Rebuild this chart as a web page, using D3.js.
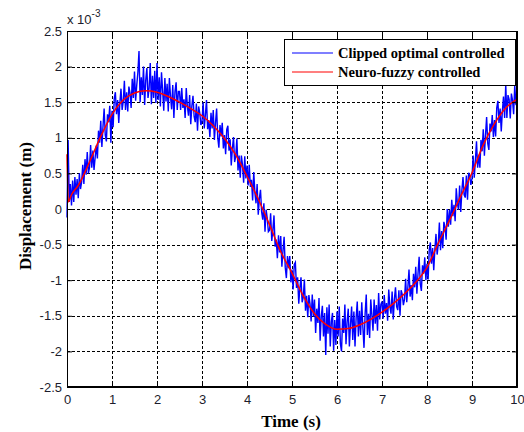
<!DOCTYPE html>
<html>
<head>
<meta charset="utf-8">
<script src="https://cdn.jsdelivr.net/npm/d3@7"></script>
<style>
  body { margin: 0; background: #fff; }
  .tick text { font-family: "Liberation Sans", Arial, sans-serif; font-size: 13px; fill: #1c1c2c; }
</style>
</head>
<body>
<svg width="524" height="432"></svg>
<script>
// data (displacement in units of 1e-3 m)
var xTicks = [0, 1, 2, 3, 4, 5, 6, 7, 8, 9, 10];
var yTicks = [-2.5, -2, -1.5, -1, -0.5, 0, 0.5, 1, 1.5, 2, 2.5];

// neuro-fuzzy controlled (smooth)
var fuzzyTime = [0, 0.03, 0.1, 0.25, 0.5, 0.75, 1, 1.25, 1.5, 1.75, 2, 2.25, 2.5, 2.75, 3, 3.25, 3.5, 3.75,
  4, 4.25, 4.5, 4.75, 5, 5.25, 5.5, 5.75, 6, 6.25, 6.5, 6.75, 7, 7.25, 7.5, 7.75, 8, 8.25, 8.5, 8.75,
  9, 9.25, 9.5, 9.75, 10];
var fuzzyDisp = [0.77, 0.10, 0.20, 0.33, 0.66, 1.02, 1.33, 1.53, 1.63, 1.66, 1.64, 1.58, 1.50, 1.41, 1.31, 1.17, 0.99, 0.76,
  0.46, 0.14, -0.22, -0.60, -0.90, -1.22, -1.47, -1.62, -1.69, -1.68, -1.63, -1.55, -1.45, -1.33, -1.19, -1.03, -0.82, -0.48, -0.16, 0.18,
  0.51, 0.90, 1.20, 1.42, 1.54];

// clipped optimal controlled (noisy), sampled every 0.025 s, one row = 0.5 s
var clippedStep = 0.025;
var clippedDisp = [
  -0.12, 0.97, 0.10, 0.35, 0.05, 0.40, 0.10, 0.45, 0.20, 0.42, 0.15, 0.50, 0.28, 0.38, 0.62, 0.35, 0.70, 0.48, 0.80, 0.50,
  0.58, 0.90, 0.58, 0.82, 0.55, 0.72, 0.89, 0.71, 1.10, 0.93, 1.24, 0.87, 1.16, 1.41, 1.04, 0.95, 1.33, 1.22, 1.45, 0.93,
  1.38, 1.15, 1.55, 1.64, 1.33, 1.53, 1.21, 1.49, 1.69, 1.39, 1.51, 1.80, 1.39, 1.64, 1.37, 1.72, 1.63, 1.42, 1.83, 1.56,
  1.93, 1.52, 1.74, 1.92, 2.22, 1.50, 1.85, 1.60, 2.00, 1.46, 1.81, 1.98, 1.56, 1.70, 2.05, 1.47, 1.87, 1.56, 1.94, 1.49,
  2.05, 1.53, 1.85, 1.44, 1.92, 1.66, 1.38, 1.84, 1.51, 1.76, 1.37, 1.84, 1.58, 1.40, 1.74, 1.28, 1.65, 1.78, 1.39, 1.65,
  1.65, 1.39, 1.70, 1.42, 1.54, 1.28, 1.70, 1.44, 1.31, 1.60, 1.19, 1.45, 1.59, 1.30, 1.22, 1.48, 1.10, 1.44, 1.35, 1.18,
  1.23, 1.50, 1.13, 1.32, 1.53, 1.12, 1.25, 1.01, 1.35, 1.13, 1.39, 0.97, 1.21, 1.41, 1.00, 0.86, 1.18, 1.02, 1.21, 0.85,
  1.04, 0.77, 1.12, 1.17, 0.82, 0.98, 0.61, 0.85, 1.01, 0.66, 0.74, 0.99, 0.54, 0.75, 0.44, 0.75, 0.62, 0.37, 0.74, 0.43,
  0.61, 0.33, 0.62, 0.31, 0.41, 0.12, 0.52, 0.23, 0.08, 0.35, -0.08, 0.15, 0.27, -0.04, -0.15, 0.08, -0.32, -0.01, -0.13, -0.32,
  -0.30, -0.06, -0.45, -0.29, -0.09, -0.53, -0.43, -0.69, -0.37, -0.61, -0.38, -0.81, -0.58, -0.39, -0.82, -0.97, -0.66, -0.83, -0.66, -1.03,
  -0.85, -1.13, -0.78, -0.75, -1.11, -0.96, -1.33, -1.11, -0.96, -1.31, -1.24, -0.99, -1.43, -1.22, -1.52, -1.21, -1.33, -1.58, -1.20, -1.51,
  -1.27, -1.74, -1.40, -1.60, -1.25, -1.85, -1.51, -1.36, -1.79, -1.46, -2.05, -1.38, -1.75, -1.34, -1.93, -1.58, -1.46, -1.99, -1.56, -1.91,
  -1.44, -1.79, -1.37, -1.89, -2.00, -1.54, -1.74, -1.34, -1.90, -1.58, -1.40, -1.93, -1.62, -1.37, -1.84, -1.44, -1.93, -1.53, -1.30, -1.79,
  -1.43, -1.77, -1.31, -1.66, -1.95, -1.47, -1.20, -1.77, -1.47, -1.81, -1.27, -1.49, -1.71, -1.27, -1.61, -1.35, -1.71, -1.18, -1.55, -1.34,
  -1.30, -1.54, -1.21, -1.47, -1.32, -1.57, -1.13, -1.37, -1.47, -1.16, -1.55, -1.27, -1.10, -1.37, -1.42, -1.14, -1.50, -1.14, -1.20, -1.35,
  -1.27, -0.98, -1.31, -1.10, -0.85, -1.23, -1.07, -1.28, -0.91, -1.10, -0.81, -1.19, -0.91, -0.67, -1.05, -1.15, -0.79, -0.91, -0.68, -1.00,
  -0.77, -0.99, -0.57, -0.47, -0.77, -0.55, -0.86, -0.56, -0.35, -0.64, -0.50, -0.19, -0.58, -0.31, -0.55, -0.18, -0.25, -0.43, 0.00, -0.25,
  -0.01, -0.22, 0.13, -0.10, 0.06, -0.17, 0.29, 0.08, -0.01, 0.33, -0.04, 0.26, 0.45, 0.20, 0.16, 0.47, 0.13, 0.51, 0.46, 0.34,
  0.43, 0.75, 0.44, 0.68, 0.95, 0.58, 0.76, 0.58, 0.97, 0.81, 1.12, 0.75, 1.04, 1.29, 0.92, 0.83, 1.20, 1.09, 1.32, 1.01,
  1.25, 1.02, 1.42, 1.52, 1.21, 1.41, 1.09, 1.38, 1.58, 1.28, 1.75, 1.28, 1.60, 1.54, 1.27, 1.62, 1.53, 1.33, 1.74, 1.47,
  1.45
];

var legendLabels = ["Clipped optimal controlled", "Neuro-fuzzy controlled"];
var seriesColors = ["#0000ff", "#ff0000"];

var svg = d3.select("svg"),
    width = +svg.attr("width"),
    height = +svg.attr("height");

// plot box ("top" is taken by window.top, so prefixed names)
var plotLeft = 67, plotRight = 517, plotTop = 31, plotBottom = 387;

var x = d3.scaleLinear().domain([0, 10]).range([plotLeft, plotRight]);
var y = d3.scaleLinear().domain([-2.5, 2.5]).range([plotBottom, plotTop]);

svg.append("rect")
    .attr("width", width)
    .attr("height", height)
    .attr("fill", "#fff");

// grid
var grid = svg.append("g").attr("class", "grid")
    .attr("stroke", "#000")
    .attr("stroke-width", 1)
    .attr("stroke-dasharray", "3,2");

grid.selectAll("line.gx")
    .data(xTicks.slice(1, -1))
    .enter().append("line")
    .attr("x1", function(d) { return Math.round(x(d)) + 0.5; })
    .attr("x2", function(d) { return Math.round(x(d)) + 0.5; })
    .attr("y1", plotTop)
    .attr("y2", plotBottom);

grid.selectAll("line.gy")
    .data(yTicks.slice(1, -1))
    .enter().append("line")
    .attr("y1", function(d) { return Math.round(y(d)) + 0.5; })
    .attr("y2", function(d) { return Math.round(y(d)) + 0.5; })
    .attr("x1", plotLeft)
    .attr("x2", plotRight);

// lines
var clippedData = clippedDisp.map(function(v, i) { return [i * clippedStep, v]; });
var fuzzyData = fuzzyTime.map(function(t, i) { return [t, fuzzyDisp[i]]; });

var line = d3.line()
    .x(function(d) { return x(d[0]); })
    .y(function(d) { return y(d[1]); });

var plot = svg.append("g");

plot.append("path")
    .datum(clippedData)
    .attr("fill", "none")
    .attr("stroke", seriesColors[0])
    .attr("stroke-width", 1.4)
    .attr("d", line);

plot.append("path")
    .datum(fuzzyData)
    .attr("fill", "none")
    .attr("stroke", seriesColors[1])
    .attr("stroke-width", 1.5)
    .attr("d", line.curve(d3.curveMonotoneX));

// axes (ticks pointing inwards, matlab style)
svg.append("g")
    .attr("transform", "translate(0," + plotBottom + ")")
    .call(d3.axisBottom(x).tickValues(xTicks).tickSize(-5).tickPadding(8).tickFormat(d3.format("d")));

svg.append("g")
    .attr("transform", "translate(0," + plotTop + ")")
    .call(d3.axisTop(x).tickValues(xTicks).tickSize(-5).tickFormat(""));

svg.append("g")
    .attr("transform", "translate(" + plotLeft + ",0)")
    .call(d3.axisLeft(y).tickValues(yTicks).tickSize(-5).tickPadding(5).tickFormat(function(d) { return String(d); }));

svg.append("g")
    .attr("transform", "translate(" + plotRight + ",0)")
    .call(d3.axisRight(y).tickValues(yTicks).tickSize(-5).tickFormat(""));

svg.selectAll(".domain").attr("stroke", "#000");
svg.selectAll(".tick line").attr("stroke", "#000");

// box
svg.append("rect")
    .attr("x", plotLeft + 0.5)
    .attr("y", plotTop + 0.5)
    .attr("width", plotRight - plotLeft - 1)
    .attr("height", plotBottom - plotTop - 1)
    .attr("fill", "none")
    .attr("stroke", "#000");

// exponent label
var expo = svg.append("text")
    .attr("x", 67)
    .attr("y", 24)
    .style("font-family", "Liberation Sans, Arial, sans-serif")
    .style("font-size", "13px")
    .attr("fill", "#1c1c2c");
expo.append("tspan").text("x 10");
expo.append("tspan").attr("dy", -7).style("font-size", "10px").text("-3");

// axis titles
svg.append("text")
    .attr("x", 291)
    .attr("y", 427)
    .attr("text-anchor", "middle")
    .style("font-family", "Liberation Serif, Times New Roman, serif")
    .style("font-weight", "bold")
    .style("font-size", "17px")
    .text("Time (s)");

svg.append("text")
    .attr("transform", "translate(31,206) rotate(-90)")
    .attr("text-anchor", "middle")
    .style("font-family", "Liberation Serif, Times New Roman, serif")
    .style("font-weight", "bold")
    .style("font-size", "17px")
    .text("Displacement (m)");

// legend
var legend = svg.append("g").attr("class", "legend");

legend.append("rect")
    .attr("x", 284.5)
    .attr("y", 39.5)
    .attr("width", 231)
    .attr("height", 46)
    .attr("fill", "#fff")
    .attr("stroke", "#000");

var item = legend.selectAll("g.item")
    .data(legendLabels)
    .enter().append("g")
    .attr("transform", function(d, i) { return "translate(0," + (53 + i * 19) + ")"; });

item.append("line")
    .attr("x1", 292)
    .attr("x2", 333)
    .attr("stroke-width", 1.2)
    .attr("stroke", function(d, i) { return seriesColors[i]; });

item.append("text")
    .attr("x", 338)
    .attr("y", 5)
    .style("font-family", "Liberation Serif, Times New Roman, serif")
    .style("font-weight", "bold")
    .style("font-size", "14.5px")
    .text(function(d) { return d; });
</script>
</body>
</html>
